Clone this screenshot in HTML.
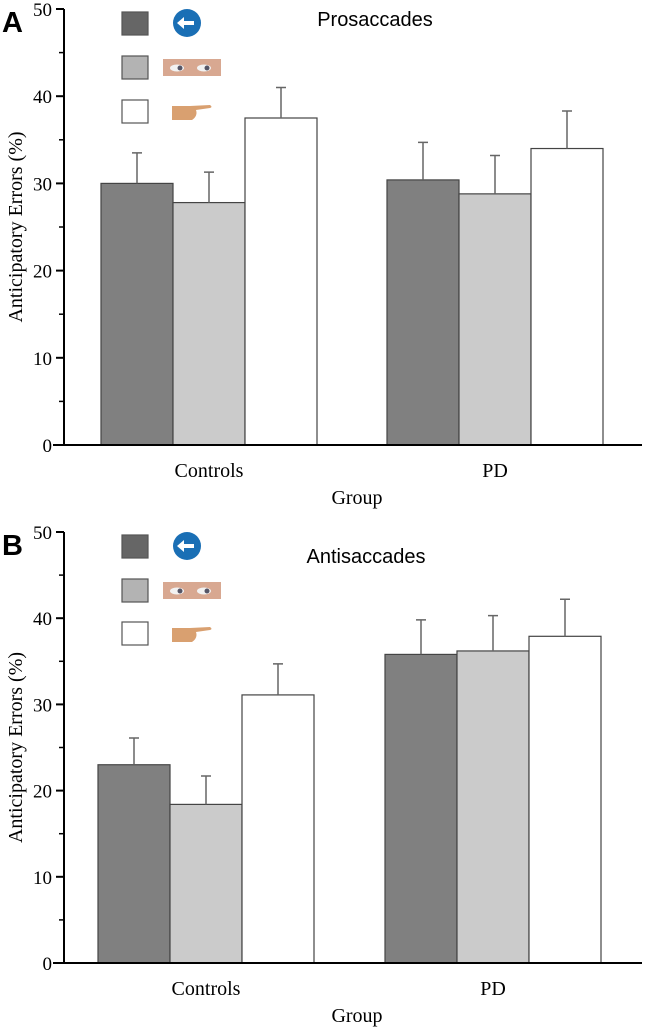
<!DOCTYPE html>
<html><head><meta charset="utf-8"><style>
body{margin:0;background:#fff}
svg{display:block}
.t{font-family:"Liberation Serif",serif;fill:#000}
.s{font-family:"Liberation Sans",sans-serif}
</style></head><body>
<svg id="c" width="649" height="1029" viewBox="0 0 649 1029" xmlns="http://www.w3.org/2000/svg"></svg>
<script>
const groups = ["Controls", "PD"];
const conditions = ["arrow", "eyes", "finger"];
const proMeans = [[30.0, 27.8, 37.5], [30.4, 28.8, 34.0]];
const proErrTop = [[33.5, 31.3, 41.0], [34.7, 33.2, 38.3]];
const antiMeans = [[23.0, 18.4, 31.1], [35.8, 36.2, 37.9]];
const antiErrTop = [[26.1, 21.7, 34.7], [39.8, 40.3, 42.2]];
const yTicks = [0, 10, 20, 30, 40, 50];
const fills = ["#808080", "#cbcbcb", "#ffffff"];
const svg = document.getElementById('c');
const NS = "http://www.w3.org/2000/svg";
function mk(tag, attrs, parent) {
  const e = document.createElementNS(NS, tag);
  for (const k in attrs) e.setAttribute(k, attrs[k]);
  (parent || svg).appendChild(e);
  return e;
}
function panel(letter, title, means, errs, y0, y50, groupX, legendY, titleX, titleY, name) {
  const g = mk('g', {});
  
  
  const yS = v => y0 + (y50 - y0) * v / 50;
  const ax = 64, bw = 72;
  means.forEach((gm, gi) => {
    gm.forEach((v, ci) => {
      const x = groupX[gi] + ci * bw;
      const r = mk('rect', {x: x, y: yS(v), width: bw, height: y0 - yS(v), fill: fills[ci], stroke: '#444', 'stroke-width': 1.2}, g);
      
      
      const cx = x + bw / 2;
      const e = mk('path', {d: `M${cx},${yS(v)}V${yS(errs[gi][ci])}M${cx-5},${yS(errs[gi][ci])}H${cx+5}`, stroke: '#666', 'stroke-width': 1.5, fill: 'none'}, g);
      
      
    });
    const lt = mk('text', {x: groupX[gi] + 1.5 * bw, y: y0 + 32, 'text-anchor': 'middle', class: 't', 'font-size': 20}, g);
    lt.textContent = groups[gi];
    
    
  });
  const axes = mk('path', {d: `M${ax},${y50}V${y0}M53,${y0}H642`, stroke: '#000', 'stroke-width': 2, fill: 'none'}, g);
  
  
  yTicks.forEach(v => {
    mk('path', {d: `M${ax-8},${yS(v)}H${ax}`, stroke: '#000', 'stroke-width': 2}, g);
    if (v < 50) mk('path', {d: `M${ax-5},${yS(v+5)}H${ax}`, stroke: '#000', 'stroke-width': 1.5}, g);
    const t = mk('text', {x: ax - 12, y: yS(v) + 7, 'text-anchor': 'end', class: 't', 'font-size': 19}, g);
    t.textContent = v;
    
    
  });
  const yl = mk('text', {x: 0, y: 0, transform: `translate(22,${(y0+y50)/2}) rotate(-90)`, 'text-anchor': 'middle', class: 't', 'font-size': 20}, g);
  yl.textContent = 'Anticipatory Errors (%)';
  
  
  const xl = mk('text', {x: 357, y: y0 + 59, 'text-anchor': 'middle', class: 't', 'font-size': 20}, g);
  xl.textContent = 'Group';
  
  
  const tt = mk('text', {x: titleX, y: titleY, 'text-anchor': 'middle', class: 's', 'font-size': 20}, g);
  tt.textContent = title;
  
  
  const pl = mk('text', {x: 2, y: y50 + 23, class: 's', 'font-size': 29, 'font-weight': 'bold'}, g);
  pl.textContent = letter;
  
  
  const lf = ["#666", "#b3b3b3", "#fff"];
  legendY.forEach((ly, i) => {
    const s = mk('rect', {x: 122, y: ly, width: 26, height: 23, fill: lf[i], stroke: '#555', 'stroke-width': 1.2}, g);
    
    
  });
  const ic = mk('g', {}, g);
  
  
  const c1 = legendY[0] + 11;
  mk('circle', {cx: 187, cy: c1, r: 14, fill: '#1a6fb5'}, ic);
  mk('path', {d: `M177,${c1}l7,-6v4h10v4h-10v4z`, fill: '#fff'}, ic);
  const c2 = legendY[1];
  mk('rect', {x: 163, y: c2 + 3, width: 58, height: 17, fill: '#d8a891'}, ic);
  mk('ellipse', {cx: 177, cy: c2 + 12, rx: 7, ry: 3.5, fill: '#f2f2f2'}, ic);
  mk('ellipse', {cx: 204, cy: c2 + 12, rx: 7, ry: 3.5, fill: '#f2f2f2'}, ic);
  mk('circle', {cx: 180, cy: c2 + 12, r: 2.5, fill: '#556'}, ic);
  mk('circle', {cx: 207, cy: c2 + 12, r: 2.5, fill: '#556'}, ic);
  const c3 = legendY[2];
  mk('path', {d: `M172,${c3+6}h18l20,-1q3,2,0,3l-14,2q2,6,-4,10h-20z`, fill: '#d9a070'}, ic);
}
panel('A', 'Prosaccades', proMeans, proErrTop, 445, 9, [101, 387], [12, 56, 100], 375, 26, 'panel-a-prosaccades');
panel('B', 'Antisaccades', antiMeans, antiErrTop, 963, 532, [98, 385], [535, 579, 622], 366, 563, 'panel-b-antisaccades');
</script>
</body></html>
